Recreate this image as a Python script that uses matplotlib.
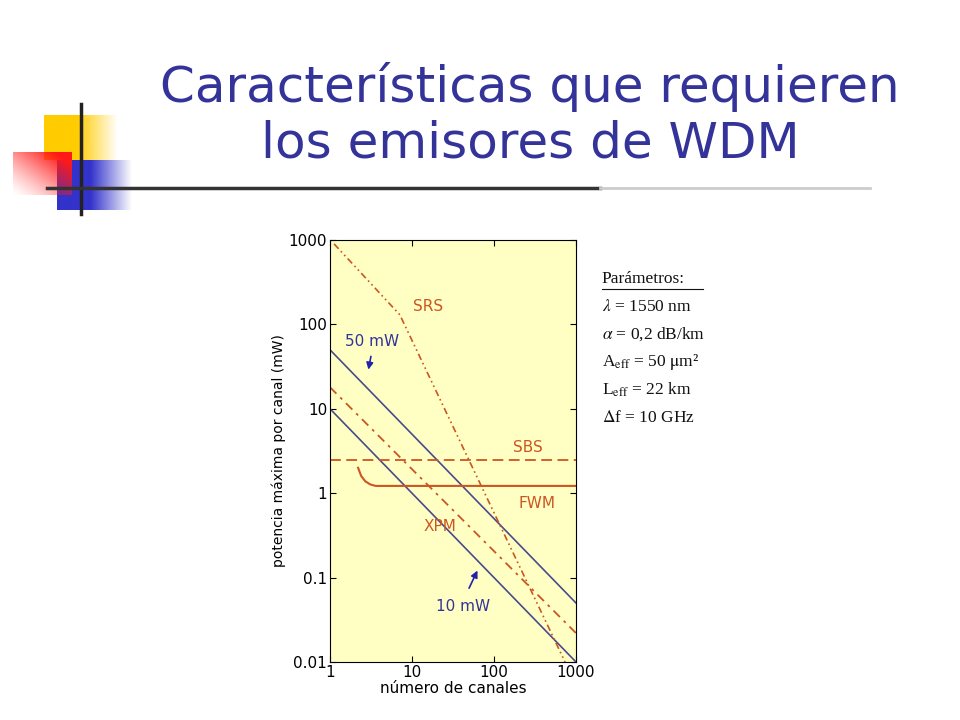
import numpy as np
import matplotlib
matplotlib.use("Agg")
import matplotlib.pyplot as plt
from matplotlib.colors import to_rgb

plt.rcParams["mathtext.fontset"] = "stix"

# ---- data ----
x_line = [1, 1000]
mw50 = [50, 0.05]
mw10 = [10, 0.01]
xpm = [18, 0.022]
srs_x = [1.12, 7.1, 735]
srs_y = [900, 130, 0.01]
sbs_x = [1, 1000]
sbs_y = [2.5, 2.5]
fwm_x = [2.2, 2.4, 2.7, 3.1, 3.6, 1000]
fwm_y = [2.0, 1.6, 1.38, 1.27, 1.22, 1.22]
xticks = [1, 10, 100, 1000]
xticklabels = ["1", "10", "100", "1000"]
yticks = [0.01, 0.1, 1, 10, 100, 1000]
yticklabels = ["0.01", "0.1", "1", "10", "100", "1000"]
params = ["Parámetros:", r"$\lambda$ = 1550 nm", r"$\alpha$ = 0,2 dB/km",
          r"A$_{\mathrm{eff}}$ = 50 $\mathrm{\mu}$m²", r"L$_{\mathrm{eff}}$ = 22 km", r"$\Delta$f = 10 GHz"]

fig = plt.figure(figsize=(9.6, 7.2), dpi=100)
fig.patch.set_facecolor("white")

deco = fig.add_axes([0, 0, 1, 1])
deco.set_xlim(0, 960); deco.set_ylim(720, 0); deco.axis("off")

def grad_rect(x0, x1, y0, y1, color, solid_frac, z):
    n = 200
    c = np.array(to_rgb(color))
    t = np.linspace(0, 1, n)
    alpha = np.where(t < solid_frac, 1.0, np.clip(1 - (t - solid_frac) / (1 - solid_frac), 0, 1))
    img = np.ones((1, n, 4))
    img[0, :, :3] = c
    img[0, :, 3] = alpha
    deco.imshow(img, extent=[x0, x1, y1, y0], aspect="auto", interpolation="bilinear", zorder=z)

grad_rect(44, 118, 115, 160, "#FFCC00", 0.45, 1)
grad_rect(57, 132, 160, 210, "#3333CC", 0.45, 1)
n = 100
xx, yy = np.meshgrid(np.linspace(0, 1, n), np.linspace(0, 1, n))
a = np.clip((xx + (1 - yy)) / 1.7, 0, 1) ** 1.3
img = np.ones((n, n, 4)); img[..., 0] = 1; img[..., 1] = 0.1; img[..., 2] = 0.1; img[..., 3] = a
deco.imshow(img, extent=[13, 72, 195, 152], aspect="auto", origin="upper", zorder=2)
deco.plot([81, 81], [104, 214], color="#222222", lw=2.5, zorder=3)
deco.plot([47, 600], [188, 188], color="#333333", lw=2.5, zorder=3)
deco.plot([600, 870], [188, 188], color="#cccccc", lw=2, zorder=3)

fig.text(0.552, 0.84, "Características que requieren\nlos emisores de WDM", ha="center", va="center",
         fontsize=36, color="#333399", family="DejaVu Sans", linespacing=1.2)

ax = fig.add_axes([330/960, 58/720, 246/960, 422/720])
ax.set_facecolor("#FFFFC4")
ax.set_xscale("log"); ax.set_yscale("log")
ax.set_xlim(1, 1000); ax.set_ylim(0.01, 1000)
blue = "#4A4A8C"; red = "#CC5522"
ax.plot(x_line, mw50, color=blue, lw=1.2)
ax.plot(x_line, mw10, color=blue, lw=1.2)
ax.plot(x_line, xpm, color=red, lw=1.3, ls=(0, (5, 3, 1.5, 3)))
ax.plot(srs_x, srs_y, color=red, lw=1.2, ls=(0, (4, 2, 1, 2, 1, 2)))
ax.plot(sbs_x, sbs_y, color=red, lw=1.3, ls=(0, (6, 3)))
ax.plot(fwm_x, fwm_y, color=red, lw=1.5)
ax.text(15.5, 165, "SRS", color=red, fontsize=11, ha="center", va="center")
ax.text(3.3, 62, "50 mW", color="#333399", fontsize=11, ha="center", va="center")
ax.annotate("", xy=(2.9, 27), xytext=(3.2, 45), arrowprops=dict(arrowstyle="-|>", color="#2222AA", lw=1.2))
ax.text(260, 3.5, "SBS", color=red, fontsize=11, ha="center", va="center")
ax.text(330, 0.75, "FWM", color=red, fontsize=11, ha="center", va="center")
ax.text(22, 0.4, "XPM", color=red, fontsize=11, ha="center", va="center")
ax.text(42, 0.045, "10 mW", color="#333399", fontsize=11, ha="center", va="center")
ax.annotate("", xy=(65, 0.13), xytext=(48, 0.07), arrowprops=dict(arrowstyle="-|>", color="#2222AA", lw=1.2))
ax.set_xticks(xticks); ax.set_xticklabels(xticklabels, fontsize=11)
ax.set_yticks(yticks); ax.set_yticklabels(yticklabels, fontsize=11)
ax.minorticks_off()
ax.tick_params(direction="in", top=True, right=True, length=4, pad=2)
ax.set_xlabel("número de canales", fontsize=11, labelpad=1)
ax.set_ylabel("potencia máxima por canal (mW)", fontsize=10, labelpad=2)

ys = [0.612, 0.574, 0.536, 0.497, 0.459, 0.420]
for s, y in zip(params, ys):
    fig.text(0.627, y, s, fontsize=12.5, family="Liberation Serif", color="#111111", va="center")
fig.add_artist(plt.Line2D([0.627, 0.732], [0.598, 0.598], color="#111111", lw=0.8))

fig.savefig("out.png", dpi=100, facecolor="white")
